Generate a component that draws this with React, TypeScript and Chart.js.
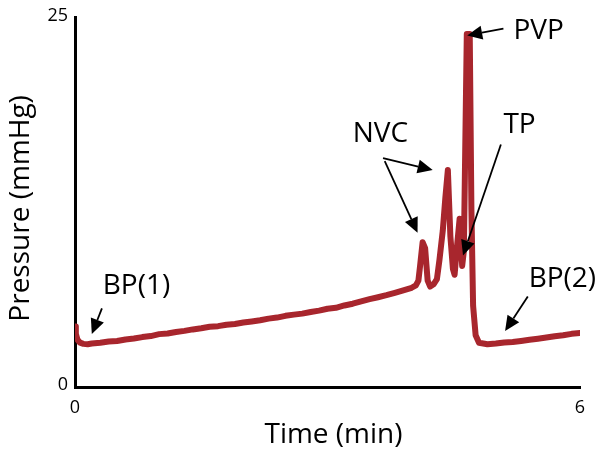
import React, { useEffect, useRef } from "react";
import { Chart, registerables } from "chart.js";

Chart.register(...registerables);

const timeMin = [
  0, 0.01, 0.03, 0.06, 0.1, 0.15, 0.2, 0.3, 0.4, 0.5, 0.6, 0.7, 0.8, 0.9, 1.0,
  1.1, 1.2, 1.3, 1.4, 1.5, 1.6, 1.7, 1.8, 1.9, 2.0, 2.1, 2.2, 2.3, 2.4, 2.5,
  2.6, 2.7, 2.8, 2.9, 3.0, 3.1, 3.2, 3.3, 3.4, 3.5, 3.6, 3.7, 3.8, 3.9, 4.0,
  4.05, 4.08, 4.1, 4.13, 4.16, 4.19, 4.22, 4.26, 4.3, 4.33, 4.37, 4.4, 4.43,
  4.46, 4.49, 4.51, 4.54, 4.57, 4.6, 4.62, 4.655, 4.69, 4.71, 4.73, 4.76, 4.8,
  4.9, 5.0, 5.1, 5.2, 5.3, 5.4, 5.5, 5.6, 5.7, 5.8, 5.9, 6.0,
];

const pressure = [
  4.1, 3.6, 3.2, 3.0, 2.92, 2.9, 2.95, 3.0, 3.08, 3.12, 3.22, 3.28, 3.38, 3.45,
  3.58, 3.62, 3.72, 3.8, 3.9, 3.98, 4.08, 4.12, 4.22, 4.27, 4.37, 4.44, 4.52, 4.63,
  4.7, 4.82, 4.9, 4.97, 5.08, 5.17, 5.3, 5.36, 5.52, 5.64, 5.8, 5.95, 6.08,
  6.22, 6.38, 6.55, 6.72, 6.88, 7.2, 8.2, 9.8, 9.4, 7.2, 6.8, 6.95, 7.3, 8.6, 10.6,
  12.8, 14.7, 10.2, 8.0, 7.6, 9.6, 11.4, 8.2, 9.2, 23.9, 23.9, 12.0, 5.5, 3.5,
  3.0, 2.9, 2.95, 3.02, 3.05, 3.12, 3.2, 3.27, 3.35, 3.44, 3.5, 3.6, 3.65,
];

const xTickValues = [0, 6];
const yTickValues = [0, 25];

// annotation labels (left/baseline anchor, in data units)
const labelTexts = ["BP(1)", "NVC", "PVP", "TP", "BP(2)"];
const labelTime = [0.33, 3.3, 5.21, 5.09, 5.39];
const labelPressure = [6.32, 16.56, 23.54, 17.22, 6.78];

// arrows: from (t0,p0) to tip (t1,p1)
const arrowFromT = [0.32, 3.66, 3.68, 5.09, 5.06, 5.38];
const arrowFromP = [5.32, 15.5, 15.3, 24.27, 16.42, 6.12];
const arrowToT = [0.2, 4.25, 4.07, 4.66, 4.61, 5.11];
const arrowToP = [3.59, 14.69, 10.44, 23.8, 8.91, 3.79];

const FONT = "'Open Sans', 'DejaVu Sans', sans-serif";

const annotPlugin = {
  id: "annot",
  afterDraw(chart: any) {
    const ctx = chart.ctx as CanvasRenderingContext2D;
    const xs = chart.scales.x;
    const ys = chart.scales.y;
    ctx.save();
    ctx.fillStyle = "#000";
    ctx.strokeStyle = "#000";
    ctx.font = `28px ${FONT}`;
    ctx.textAlign = "left";
    ctx.textBaseline = "alphabetic";
    labelTexts.forEach((t, i) => {
      ctx.fillText(t, xs.getPixelForValue(labelTime[i]), ys.getPixelForValue(labelPressure[i]));
    });
    ctx.lineWidth = 1.8;
    arrowFromT.forEach((_, i) => {
      const x0 = xs.getPixelForValue(arrowFromT[i]);
      const y0 = ys.getPixelForValue(arrowFromP[i]);
      const x1 = xs.getPixelForValue(arrowToT[i]);
      const y1 = ys.getPixelForValue(arrowToP[i]);
      const ang = Math.atan2(y1 - y0, x1 - x0);
      const headLen = 15;
      const headW = 7;
      const bx = x1 - headLen * Math.cos(ang);
      const by = y1 - headLen * Math.sin(ang);
      ctx.beginPath();
      ctx.moveTo(x0, y0);
      ctx.lineTo(bx, by);
      ctx.stroke();
      ctx.beginPath();
      ctx.moveTo(x1, y1);
      ctx.lineTo(bx + headW * Math.sin(ang), by - headW * Math.cos(ang));
      ctx.lineTo(bx - headW * Math.sin(ang), by + headW * Math.cos(ang));
      ctx.closePath();
      ctx.fill();
    });
    ctx.font = `28px ${FONT}`;
    ctx.textAlign = "center";
    ctx.fillText("Time (min)", (xs.left + xs.right) / 2 + 6, 443);
    ctx.save();
    ctx.translate(29, (ys.top + ys.bottom) / 2 + 6);
    ctx.rotate(-Math.PI / 2);
    ctx.fillText("Pressure (mmHg)", 0, 0);
    ctx.restore();
    ctx.restore();
  },
};

export default function App() {
  const ref = useRef<HTMLCanvasElement | null>(null);
  useEffect(() => {
    if (!ref.current) return;
    const chart = new Chart(ref.current, {
      type: "line",
      data: {
        datasets: [
          {
            data: timeMin.map((t, i) => ({ x: t, y: pressure[i] })),
            borderColor: "#a8262d",
            borderWidth: 6,
            pointRadius: 0,
            tension: 0,
            fill: false,
            borderJoinStyle: "round",
            borderCapStyle: "round",
          },
        ],
      },
      options: {
        responsive: false,
        animation: false,
        layout: { padding: { top: 11, right: 20, left: 0, bottom: 0 } },
        plugins: { legend: { display: false }, tooltip: { enabled: false } },
        scales: {
          x: {
            type: "linear",
            min: 0,
            max: 6,
            grid: { display: false, drawTicks: false },
            border: { display: true, color: "#000", width: 3 },
            afterBuildTicks: (s: any) => {
              s.ticks = xTickValues.map((v) => ({ value: v }));
            },
            afterFit: (s: any) => {
              s.height = 68;
            },
            ticks: {
              color: "#000",
              font: { family: FONT, size: 18 },
              padding: 10,
              maxRotation: 0,
            },
          },
          y: {
            type: "linear",
            min: 0,
            max: 25,
            grid: { display: false, drawTicks: false },
            border: { display: true, color: "#000", width: 3 },
            afterBuildTicks: (s: any) => {
              s.ticks = yTickValues.map((v) => ({ value: v }));
            },
            afterFit: (s: any) => {
              s.width = 75;
            },
            ticks: {
              color: "#000",
              font: { family: FONT, size: 18 },
              padding: 7,
              labelOffset: -2,
            },
          },
        },
      },
      plugins: [annotPlugin],
    } as any);
    return () => chart.destroy();
  }, []);
  return (
    <div style={{ position: "absolute", left: 0, top: 0, width: 600, height: 455, background: "#fff" }}>
      <canvas ref={ref} width={600} height={455} style={{ width: 600, height: 455, display: "block" }} />
    </div>
  );
}
